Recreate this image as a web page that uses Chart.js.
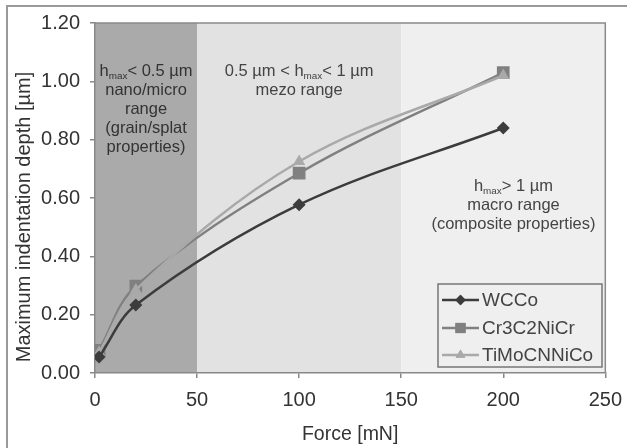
<!DOCTYPE html>
<html>
<head>
<meta charset="utf-8">
<script src="https://cdn.jsdelivr.net/npm/chart.js@4"></script>
<style>
html,body{margin:0;padding:0;background:#fff;}
#wrap{width:632px;height:448px;}
</style>
</head>
<body>
<div id="wrap"><canvas id="c" width="632" height="448"></canvas></div>
<script>
// ---- data ----
const forces = [2, 20, 100, 200];
const seriesNames = ['WCCo', 'Cr3C2NiCr', 'TiMoCNNiCo'];
const wccoDepth = [0.055, 0.233, 0.577, 0.840];
const cr3c2nicrDepth = [0.078, 0.298, 0.685, 1.030];
const timocnnicoDepth = [0.070, 0.285, 0.725, 1.020];
const xTicks = [0, 50, 100, 150, 200, 250];
const yTicks = [0, 0.2, 0.4, 0.6, 0.8, 1.0, 1.2];
const rangeEdges = [0, 50, 150, 250];

const FONT = '"Liberation Sans", Arial, sans-serif';

function toXY(xs, ys){ return xs.map((x,i)=>({x:x, y:ys[i]})); }

const styles = [
  {color:'#3c3c3c', point:'rectRot', radius:6.5, order:0},
  {color:'#808080', point:'rect', radius:9, order:2},
  {color:'#a9a9a9', point:'triangle', radius:7, order:1}
];
const values = [wccoDepth, cr3c2nicrDepth, timocnnicoDepth];

const datasets = seriesNames.map((n,i)=>({
  label:n,
  data: toXY(forces, values[i]),
  borderColor: styles[i].color,
  backgroundColor: styles[i].color,
  borderWidth: 2.5,
  pointStyle: styles[i].point,
  pointRadius: styles[i].radius,
  pointBorderWidth: 0,
  tension: 0.35,
  order: styles[i].order
}));

function drawRich(ctx, parts, cx, y, size){
  // parts: array of [text, isSub]
  let w = 0;
  parts.forEach(p=>{
    ctx.font = (p[1] ? (size*0.6) : size) + 'px ' + FONT;
    w += ctx.measureText(p[0]).width;
  });
  let x = cx - w/2;
  ctx.textAlign = 'left';
  ctx.textBaseline = 'alphabetic';
  parts.forEach(p=>{
    ctx.font = (p[1] ? (size*0.6) : size) + 'px ' + FONT;
    ctx.fillText(p[0], x, y + (p[1] ? 3 : 0));
    x += ctx.measureText(p[0]).width;
  });
}

const rangeLabels = [
  {xv:25, color:'#333', lines:[[['h',0],['max',1],['< 0.5 µm',0]], [['nano/micro',0]], [['range',0]], [['(grain/splat',0]], [['properties)',0]]], y0:76},
  {xv:100, color:'#444', lines:[[['0.5 µm < h',0],['max',1],['< 1 µm',0]], [['mezo range',0]]], y0:76},
  {xv:205, color:'#444', lines:[[['h',0],['max',1],['> 1 µm',0]], [['macro range',0]], [['(composite properties)',0]]], y0:191}
];
const bandColors = ['#aaaaaa', '#e2e2e2', '#efefef'];

const bgPlugin = {
  id:'bg',
  beforeDraw(chart){
    const ctx = chart.ctx, a = chart.chartArea;
    const xs = chart.scales.x;
    ctx.save();
    ctx.fillStyle = '#fff';
    ctx.fillRect(0,0,chart.width,chart.height);
    // outer frame
    ctx.strokeStyle = '#9a9a9a';
    ctx.lineWidth = 2;
    ctx.beginPath();
    ctx.moveTo(7, 460); ctx.lineTo(7, 6); ctx.lineTo(627, 6);
    ctx.stroke();
    // bands
    for(let i=0;i<rangeEdges.length-1;i++){
      const x0 = xs.getPixelForValue(rangeEdges[i]);
      const x1 = xs.getPixelForValue(rangeEdges[i+1]);
      ctx.fillStyle = bandColors[i];
      ctx.fillRect(x0, a.top, x1-x0, a.bottom-a.top);
    }
    // plot border top/right
    ctx.strokeStyle = '#8a8a8a';
    ctx.lineWidth = 1.5;
    ctx.beginPath();
    ctx.moveTo(a.left, a.top); ctx.lineTo(a.right, a.top); ctx.lineTo(a.right, a.bottom);
    ctx.stroke();
    // band labels
    rangeLabels.forEach(r=>{
      ctx.fillStyle = r.color;
      const cx = xs.getPixelForValue(r.xv);
      r.lines.forEach((ln,k)=>{
        drawRich(ctx, ln, cx, r.y0 + k*19, 16.5);
      });
    });
    // y title
    ctx.save();
    ctx.translate(24, 217);
    ctx.rotate(-Math.PI/2);
    ctx.fillStyle = '#333';
    ctx.font = '20px ' + FONT;
    ctx.textAlign = 'center';
    ctx.textBaseline = 'middle';
    ctx.fillText('Maximum indentation depth [µm]', 0, 0);
    ctx.restore();
    ctx.restore();
  },
  afterDatasetsDraw(chart){
    const ctx = chart.ctx;
    ctx.save();
    // legend box
    const bx = 438, by = 284, bw = 164, bh = 83;
    ctx.strokeStyle = '#777';
    ctx.lineWidth = 1.5;
    ctx.strokeRect(bx, by, bw, bh);
    const rows = [300, 328, 355];
    chart.data.datasets.forEach((ds,i)=>{
      const y = rows[i];
      ctx.strokeStyle = ds.borderColor;
      ctx.lineWidth = 2.5;
      ctx.beginPath(); ctx.moveTo(442, y); ctx.lineTo(479, y); ctx.stroke();
      ctx.fillStyle = ds.backgroundColor;
      Chart.helpers.drawPoint(ctx, {pointStyle: ds.pointStyle, radius: ds.pointRadius*0.8, rotation:0, borderWidth:0}, 460.5, y);
      ctx.fill();
      ctx.fillStyle = '#444';
      ctx.font = '19px ' + FONT;
      ctx.textAlign = 'left';
      ctx.textBaseline = 'middle';
      ctx.fillText(ds.label, 482, y+1);
    });
    ctx.restore();
  }
};

new Chart(document.getElementById('c'), {
  type:'line',
  data:{datasets},
  plugins:[bgPlugin],
  options:{
    responsive:false,
    animation:false,
    devicePixelRatio:1,
    layout:{padding:{left:8, top:23, right:24, bottom:0}},
    plugins:{legend:{display:false}, tooltip:{enabled:false}},
    scales:{
      x:{
        type:'linear', min:0, max:250,
        afterBuildTicks(s){ s.ticks = xTicks.map(v=>({value:v})); },
        afterFit(s){ s.height = 75; },
        ticks:{font:{family:FONT, size:20}, color:'#333', padding:10, maxRotation:0},
        grid:{display:true, drawOnChartArea:false, drawTicks:true, tickLength:5, color:'#888', lineWidth:1.5},
        border:{display:true, color:'#888', width:1.5},
        title:{display:true, text:'Force [mN]', font:{family:FONT, size:19.5}, color:'#333', padding:{top:2, bottom:2}}
      },
      y:{
        type:'linear', min:0, max:1.2,
        afterBuildTicks(s){ s.ticks = yTicks.map(v=>({value:v})); },
        afterFit(s){ s.width = 87; },
        ticks:{font:{family:FONT, size:20}, color:'#333', padding:10, callback:v=>v.toFixed(2)},
        grid:{display:true, drawOnChartArea:false, drawTicks:true, tickLength:5, color:'#888', lineWidth:1.5},
        border:{display:true, color:'#888', width:1.5},
        title:{display:false}
      }
    }
  }
});
</script>
</body>
</html>
